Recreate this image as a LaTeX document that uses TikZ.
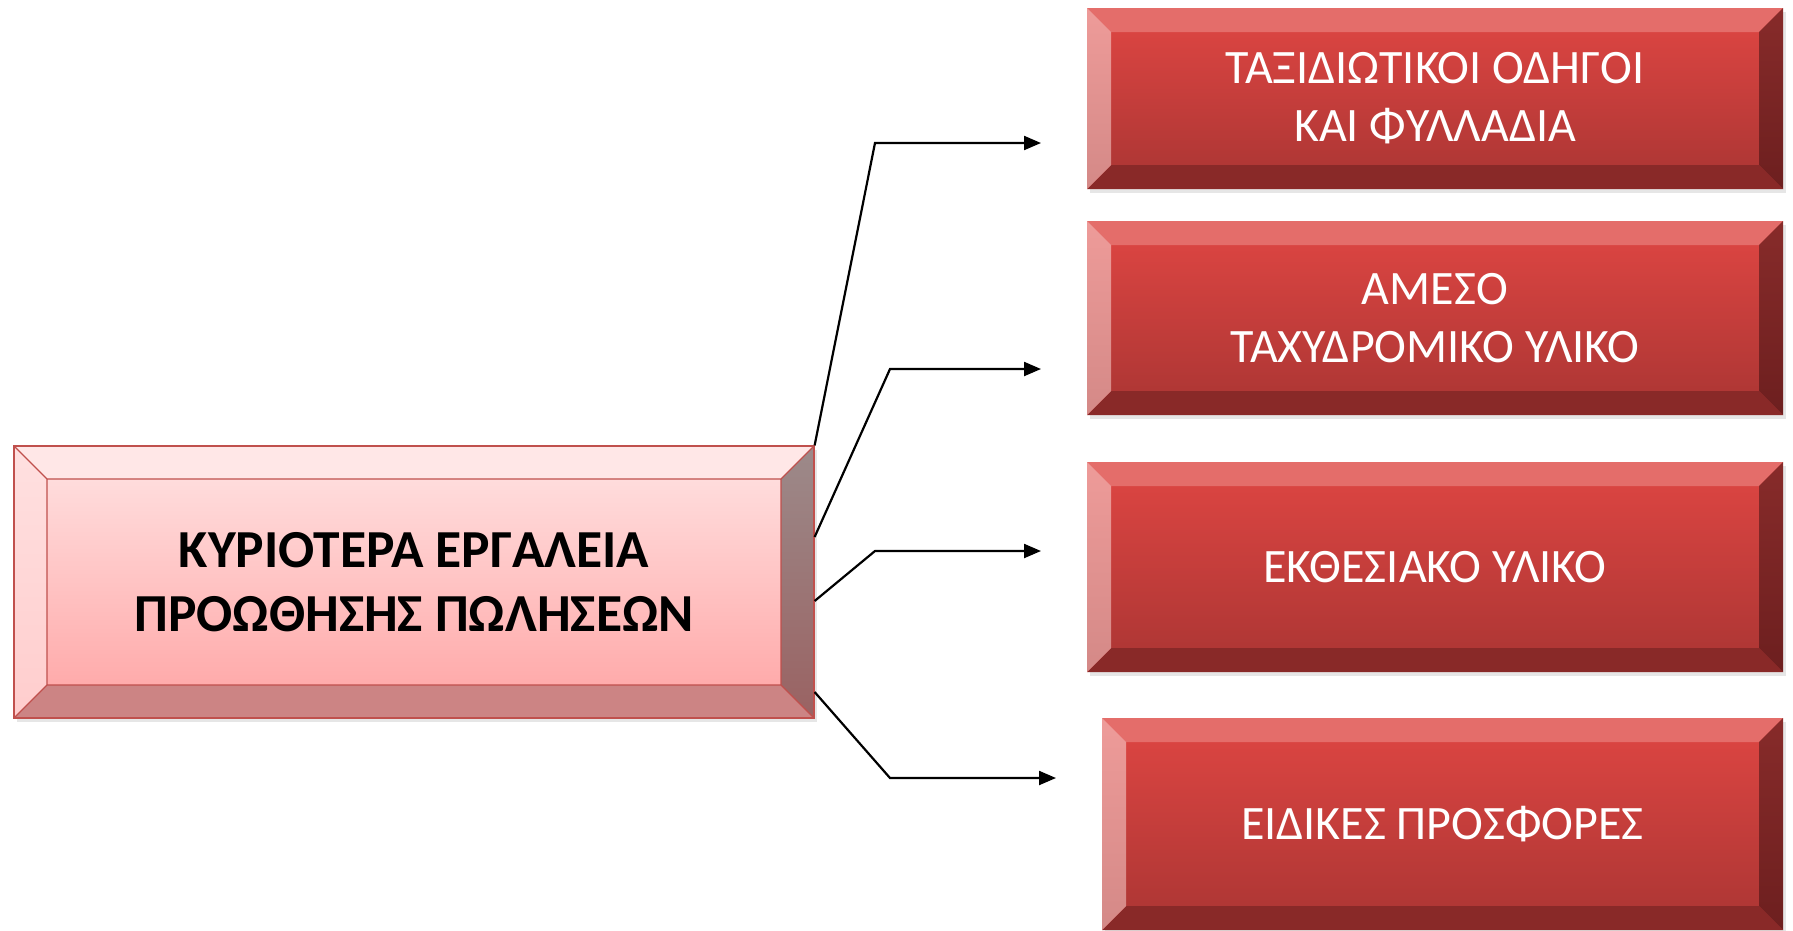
\documentclass[tikz,border=0pt]{standalone}
\usepackage{fontspec}
\setmainfont{Carlito}
\usepackage{tikz}
\usetikzlibrary{arrows.meta,shadows}
\pgfdeclarelayer{nodelayer}
\pgfdeclarelayer{edgelayer}
\pgfsetlayers{nodelayer, edgelayer, main}

% pink head box
\definecolor{pkfacea}{HTML}{FFDCDC}
\definecolor{pkfaceb}{HTML}{FFABAB}
\definecolor{pktop}{HTML}{FFE7E7}
\definecolor{pklefta}{HTML}{FFE0E0}
\definecolor{pkleftb}{HTML}{FFCDCD}
\definecolor{pkrighta}{HTML}{9C8A8A}
\definecolor{pkrightb}{HTML}{9A6262}
\definecolor{pkbottom}{HTML}{CC8484}
\definecolor{boxedge}{HTML}{C0504D}
% red item boxes
\definecolor{rdfacea}{HTML}{D94441}
\definecolor{rdfaceb}{HTML}{B03735}
\definecolor{rdtop}{HTML}{E46D6A}
\definecolor{rdlefta}{HTML}{EE9B99}
\definecolor{rdleftb}{HTML}{D48987}
\definecolor{rdrighta}{HTML}{872B2A}
\definecolor{rdrightb}{HTML}{6D1F1F}
\definecolor{rdbottom}{HTML}{892928}

\newcommand{\drawbevels}[3]{%
  \path (path picture bounding box.north west) coordinate (NW)
        (path picture bounding box.north east) coordinate (NE)
        (path picture bounding box.south west) coordinate (SW)
        (path picture bounding box.south east) coordinate (SE);
  \path ([shift={(#2,-#2)}]NW) coordinate (nw)
        ([shift={(-#2,-#2)}]NE) coordinate (ne)
        ([shift={(#2,#2)}]SW) coordinate (sw)
        ([shift={(-#2,#2)}]SE) coordinate (se);
  \shade[top color=#1facea, bottom color=#1faceb] (nw) rectangle (se);
  \fill[#1top] (NW) -- (NE) -- (ne) -- (nw) -- cycle;
  \fill[#1bottom] (SW) -- (SE) -- (se) -- (sw) -- cycle;
  \shade[top color=#1lefta, bottom color=#1leftb] (NW) -- (nw) -- (sw) -- (SW) -- cycle;
  \shade[top color=#1righta, bottom color=#1rightb] (NE) -- (ne) -- (se) -- (SE) -- cycle;
  \draw[#3] (nw) rectangle (se) (NW) -- (nw) (NE) -- (ne) (SW) -- (sw) (SE) -- (se);
}

\tikzset{
  headbox/.style={rectangle, inner sep=0pt, align=center,
    minimum width=800pt, minimum height=272pt,
    draw=boxedge, line width=1.2pt, fill=pkfacea,
    drop shadow={shadow xshift=3pt, shadow yshift=-4pt, opacity=0.2},
    path picture={\drawbevels{pk}{33pt}{boxedge, line width=1.2pt}},
    font=\fontsize{53.5}{64}\selectfont\bfseries},
  itembox/.style={rectangle, inner sep=0pt, align=center,
    minimum width=696pt, draw=none, fill=rdfacea, text=white,
    drop shadow={shadow xshift=3pt, shadow yshift=-4pt, opacity=0.2},
    path picture={\drawbevels{rd}{24pt}{draw=none}},
    font=\fontsize{48}{58}\selectfont},
  link/.style={line width=2.2pt, -{Triangle[length=17pt,width=14pt]}}
}

\begin{document}
\begin{tikzpicture}[x=1pt, y=-1pt]
    \useasboundingbox (0,0) rectangle (1793,930);
	\begin{pgfonlayer}{nodelayer}
        \node[headbox] (tools) at (414,582) {ΚΥΡΙΟΤΕΡΑ ΕΡΓΑΛΕΙΑ\\ΠΡΟΩΘΗΣΗΣ ΠΩΛΗΣΕΩΝ};
        \node[itembox, minimum height=181pt] (guides) at (1435,98.5) {ΤΑΞΙΔΙΩΤΙΚΟΙ ΟΔΗΓΟΙ\\ΚΑΙ ΦΥΛΛΑΔΙΑ};
        \node[itembox, minimum height=194pt] (mail) at (1435,318) {ΑΜΕΣΟ\\ΤΑΧΥΔΡΟΜΙΚΟ ΥΛΙΚΟ};
        \node[itembox, minimum height=210pt] (display) at (1435,567) {ΕΚΘΕΣΙΑΚΟ ΥΛΙΚΟ};
        \node[itembox, minimum width=681pt, minimum height=212pt] (offers) at (1442.5,824) {ΕΙΔΙΚΕΣ ΠΡΟΣΦΟΡΕΣ};
	\end{pgfonlayer}
	\begin{pgfonlayer}{edgelayer}
        \coordinate (b1) at (875,143);
        \coordinate (t1) at (1041,143);
        \coordinate (b2) at (890,369);
        \coordinate (t2) at (1041,369);
        \coordinate (b3) at (875,551);
        \coordinate (t3) at (1041,551);
        \coordinate (b4) at (890,778);
        \coordinate (t4) at (1056,778);
        \draw[link] (tools.north east) -- (b1) -- (t1);
        \draw[link] ([yshift=45pt]tools.east) -- (b2) -- (t2);
        \draw[link] ([yshift=-19pt]tools.east) -- (b3) -- (t3);
        \draw[link] ([yshift=-110pt]tools.east) -- (b4) -- (t4);
	\end{pgfonlayer}
    \end{tikzpicture}
\end{document}
